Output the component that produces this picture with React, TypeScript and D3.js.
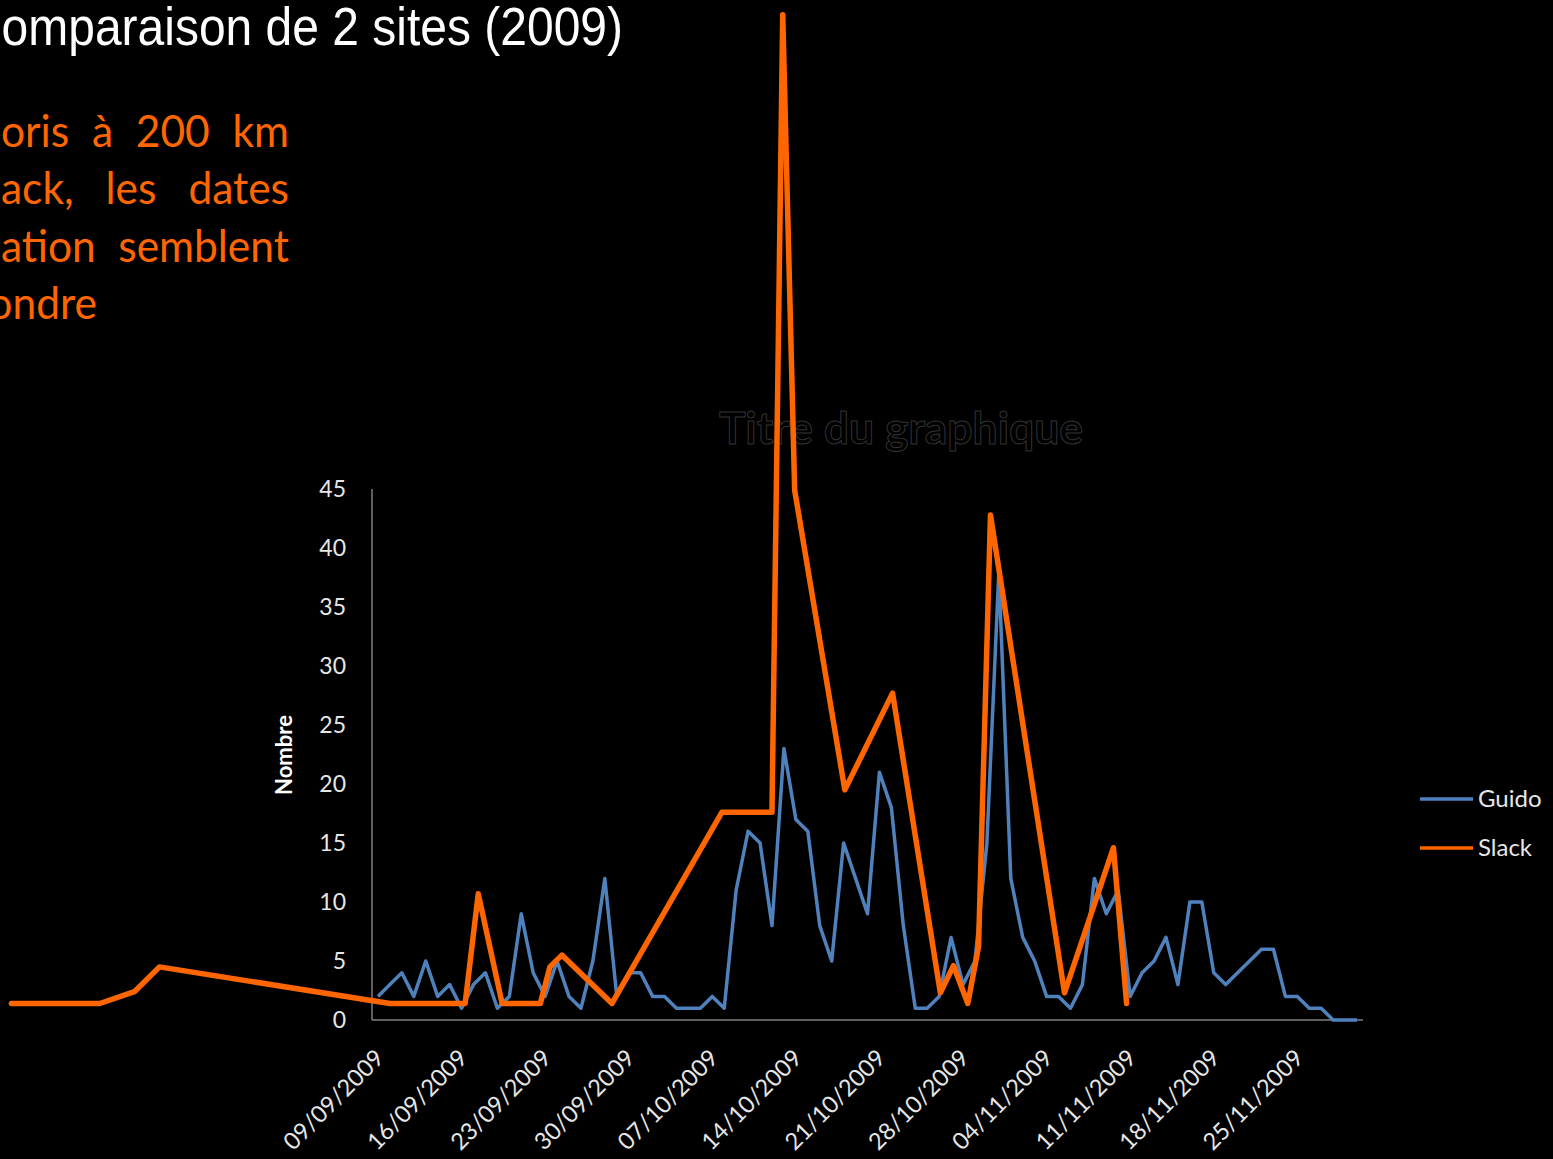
import React, { useEffect, useRef } from 'react';
import * as d3 from 'd3';

// first day of the Guido series
const START = new Date(2009, 8, 9);

// Guido: one value per day from 09/09/2009 to 30/11/2009
const guido = [
  2, 3, 4, 2, 5, 2, 3, 1, 3, 4,
  1, 2, 9, 4, 2, 5, 2, 1, 5, 12,
  2, 4, 4, 2, 2, 1, 1, 1, 2, 1,
  11, 16, 15, 8, 23, 17, 16, 8, 5, 15,
  12, 9, 21, 18, 8, 1, 1, 2, 7, 3,
  5, 15, 38, 12, 7, 5, 2, 2, 1, 3,
  12, 9, 11, 2, 4, 5, 7, 3, 10, 10,
  4, 3, 4, 5, 6, 6, 2, 2, 1, 1,
  0, 0, 0,
];

// Slack: overlaid series, days counted from 09/09/2009 (it was pasted off-axis)
const slackDay = [-30.7, -23.3, -20.4, -18.3, 1.0, 7.3, 8.4, 10.4, 13.6, 14.4, 15.4, 19.6, 28.8,
  33.0, 33.9, 34.9, 39.1, 43.1, 47.1, 48.2, 49.4, 50.3, 51.3, 57.5, 61.6, 62.7];
const slackValue = [1.4, 1.4, 2.4, 4.5, 1.4, 1.4, 10.7, 1.4, 1.4, 4.5, 5.5, 1.4, 17.6,
  17.6, 85.2, 44.9, 19.5, 27.7, 2.3, 4.6, 1.4, 6.2, 42.8, 2.3, 14.6, 1.4];

const yTicks = [0, 5, 10, 15, 20, 25, 30, 35, 40, 45];
const labelEvery = 7;

const slideTitle = 'Comparaison de 2 sites (2009)';
const bodyLines = [
  ['oris', 'à', '200', 'km'],
  ['ack,', 'les', 'dates'],
  ['ation', 'semblent'],
  ['ondre'],
];
const chartTitle = 'Titre du graphique';
const legendItems = ['Guido', 'Slack'];

const BLUE = '#4f81bd';
const ORANGE = '#ff6600';

export default function App() {
  const ref = useRef<SVGSVGElement>(null);

  useEffect(() => {
    if (!ref.current) return;
    const svg = d3.select(ref.current);
    svg.selectAll('*').remove();

    const W = 1553, H = 1159;
    svg.attr('width', W).attr('height', H).attr('viewBox', `0 0 ${W} ${H}`);
    svg.append('rect').attr('width', W).attr('height', H).attr('fill', '#000');

    // plot area
    const x = d3.scaleLinear().domain([-0.5, guido.length - 0.5]).range([372, 1363]);
    const y = d3.scaleLinear().domain([0, 45]).range([1020, 489]);
    const fmt = d3.timeFormat('%d/%m/%Y');
    const font = 'Lato, "Open Sans", sans-serif';

    // slide title (left edge is cut by the slide, as in the source)
    svg.append('text')
      .attr('transform', 'translate(623,45) scale(1,1.1)')
      .attr('text-anchor', 'end')
      .attr('font-family', '"Liberation Sans", Arial, sans-serif')
      .attr('font-size', 48)
      .attr('fill', '#fff')
      .text(slideTitle);

    // orange body text, justified to x=289, block starts left of the slide edge
    const baselines = [147, 204, 262, 319];
    bodyLines.forEach((words, li) => {
      const nodes = words.map(w => svg.append('text')
        .attr('font-family', font)
        .attr('font-size', 42.5)
        .attr('fill', ORANGE)
        .text(w));
      const widths = nodes.map(n => (n.node() as SVGTextElement).getComputedTextLength());
      const last = li === bodyLines.length - 1;
      const total = d3.sum(widths);
      const gap = last || words.length < 2 ? 10 : (289 - 1 - total) / (words.length - 1);
      let cx = last ? 97 - total : 1;
      nodes.forEach((n, i) => {
        n.attr('transform', `translate(${cx},${baselines[li]}) scale(1,1.03)`);
        cx += widths[i] + gap;
      });
    });

    // chart title (black on black, as in the source)
    svg.append('text')
      .attr('x', 901).attr('y', 444)
      .attr('text-anchor', 'middle')
      .attr('font-family', font)
      .attr('font-weight', 'bold')
      .attr('font-size', 44.5)
      .attr('fill', '#000')
      .attr('stroke', '#333')
      .attr('stroke-width', 1)
      .text(chartTitle);

    // axes lines
    svg.append('line').attr('x1', 372).attr('x2', 372).attr('y1', 489).attr('y2', 1020)
      .attr('stroke', '#7f7f7f').attr('stroke-width', 1.5);
    svg.append('line').attr('x1', 372).attr('x2', 1363).attr('y1', 1020).attr('y2', 1020)
      .attr('stroke', '#7f7f7f').attr('stroke-width', 1.5);

    // y tick labels
    svg.append('g').selectAll('text').data(yTicks).join('text')
      .attr('x', 346).attr('y', d => y(d)).attr('dy', '0.36em')
      .attr('text-anchor', 'end')
      .attr('font-family', font).attr('font-size', 23)
      .attr('fill', '#e6e6e6')
      .text(d => d);

    svg.append('text')
      .attr('transform', 'translate(292,755) rotate(-90)')
      .attr('text-anchor', 'middle')
      .attr('font-family', font).attr('font-weight', 'bold').attr('font-size', 22)
      .attr('fill', '#fff')
      .text('Nombre');

    // x tick labels
    const labelIdx = d3.range(0, guido.length, labelEvery);
    svg.append('g').selectAll('text').data(labelIdx).join('text')
      .attr('transform', d => `translate(${x(d) - 5},${1047}) rotate(-45)`)
      .attr('text-anchor', 'end')
      .attr('dy', '0.75em')
      .attr('font-family', font).attr('font-size', 23.5)
      .attr('fill', '#e6e6e6')
      .text(d => fmt(d3.timeDay.offset(START, d)));

    // series
    const line = d3.line<[number, number]>().x(d => x(d[0])).y(d => y(d[1]));
    svg.append('path')
      .attr('d', line(guido.map((v, i) => [i, v] as [number, number])))
      .attr('fill', 'none').attr('stroke', BLUE).attr('stroke-width', 3.5)
      .attr('stroke-linejoin', 'round');
    svg.append('path')
      .attr('d', line(slackDay.map((d, i) => [d, slackValue[i]] as [number, number])))
      .attr('fill', 'none').attr('stroke', ORANGE).attr('stroke-width', 5.5)
      .attr('stroke-linejoin', 'round').attr('stroke-linecap', 'round');

    // legend
    const leg = svg.append('g');
    legendItems.forEach((name, i) => {
      const ly = 799 + i * 49;
      leg.append('line').attr('x1', 1420).attr('x2', 1473).attr('y1', ly).attr('y2', ly)
        .attr('stroke', i === 0 ? BLUE : ORANGE).attr('stroke-width', 3.5);
      leg.append('text').attr('x', 1478).attr('y', ly).attr('dy', '0.35em')
        .attr('font-family', font).attr('font-size', 24)
        .attr('fill', '#e6e6e6')
        .text(name);
    });
  }, []);

  return (
    <div style={{ position: 'fixed', left: 0, top: 0, width: 1553, height: 1159, background: '#000', overflow: 'hidden' }}>
      <svg ref={ref} style={{ display: 'block' }} />
    </div>
  );
}
